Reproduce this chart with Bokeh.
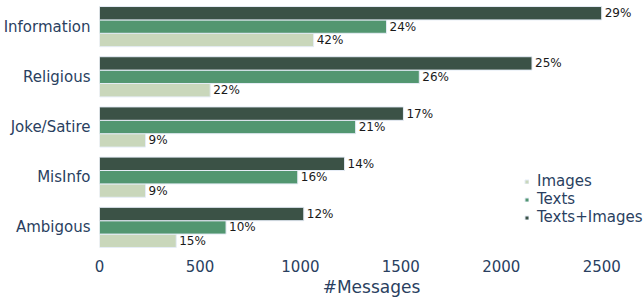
from bokeh.plotting import figure
from bokeh.models import ColumnDataSource, FactorRange, Range1d, FixedTicker, Legend
from bokeh.transform import dodge
from bokeh.core.properties import value
from bokeh.embed import file_html
from bokeh.resources import INLINE

categories = ["Information", "Religious", "Joke/Satire", "MisInfo", "Ambigous"]
images = [1066, 551, 229, 229, 382]
texts = [1429, 1592, 1275, 987, 630]
texts_images = [2500, 2153, 1513, 1220, 1017]
images_pct = ["42%", "22%", "9%", "9%", "15%"]
texts_pct = ["24%", "26%", "21%", "16%", "10%"]
texts_images_pct = ["29%", "25%", "17%", "14%", "12%"]
x_ticks = [0, 500, 1000, 1500, 2000, 2500]

FONT = "DejaVu Sans"
AXIS_COLOR = "#2a3f5f"
C_IMG = "#c9d7bb"
C_TXT = "#529670"
C_TI = "#3b5246"

source = ColumnDataSource(dict(
    cat=categories, images=images, texts=texts, ti=texts_images,
    images_pct=images_pct, texts_pct=texts_pct, ti_pct=texts_images_pct,
))

p = figure(
    width=643, height=299,
    y_range=FactorRange(factors=list(reversed(categories)), range_padding=0),
    x_range=Range1d(0, 2708),
    output_backend="svg", toolbar_location=None,
    min_border_left=97, min_border_right=0, min_border_top=1, min_border_bottom=43,
)
p.outline_line_color = None
p.xgrid.visible = False
p.ygrid.visible = False

bh = 0.8 / 3
series = [
    ("images", "images_pct", -bh, C_IMG, "Images"),
    ("texts", "texts_pct", 0.0, C_TXT, "Texts"),
    ("ti", "ti_pct", bh, C_TI, "Texts+Images"),
]
renderers = []
for col, pcol, off, color, label in series:
    r = p.hbar(y=dodge("cat", off, range=p.y_range), right=col, left=0, height=bh,
               source=source, fill_color=color, line_color="#e5ecf6", line_width=1)
    renderers.append((label, r))
    p.text(x=col, y=dodge("cat", off, range=p.y_range), text=pcol, source=source,
           x_offset=3, text_baseline="middle", text_align="left",
           text_font=value(FONT), text_font_size="12px", text_color="#1a1a1a")

legend = Legend(items=[(lab, [r]) for lab, r in renderers], location=(425, 26))
legend.glyph_width = 5
legend.glyph_height = 5
legend.label_height = 17
legend.label_standoff = 8
legend.spacing = 0
legend.padding = 0
legend.margin = 0
legend.background_fill_alpha = 0
legend.border_line_color = None
legend.label_text_font = FONT
legend.label_text_font_size = "15px"
legend.label_text_color = AXIS_COLOR
p.add_layout(legend, "center")

p.xaxis.ticker = FixedTicker(ticks=x_ticks)
p.xaxis.axis_label = "#Messages"
p.xaxis.axis_label_text_font = FONT
p.xaxis.axis_label_text_font_size = "17px"
p.xaxis.axis_label_text_font_style = "normal"
p.xaxis.axis_label_text_color = AXIS_COLOR
p.xaxis.axis_label_standoff = 2
for ax in (p.xaxis, p.yaxis):
    ax.axis_line_color = None
    ax.major_tick_line_color = None
    ax.minor_tick_line_color = None
    ax.major_tick_out = 0
    ax.major_label_text_font = FONT
    ax.major_label_text_font_size = "15px"
    ax.major_label_text_color = AXIS_COLOR
p.xaxis.major_label_standoff = 7
p.yaxis.major_label_standoff = 9

open("out.html", "w").write(file_html(p, INLINE))
